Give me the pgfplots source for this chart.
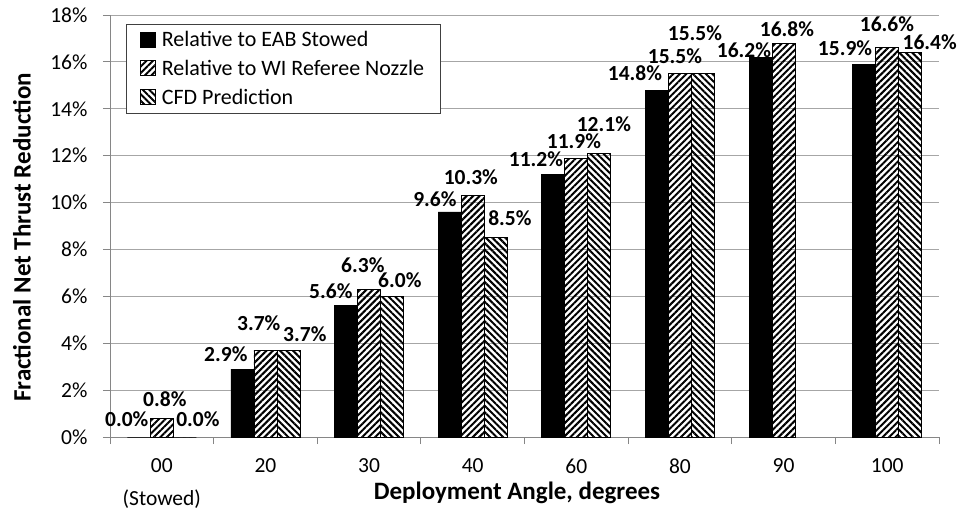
\documentclass[border=0pt]{standalone}
\usepackage{fontspec}
\setmainfont{Carlito}
\usepackage{pgfplots}
\usepackage{pgfplotstable}
\pgfplotsset{compat=1.18}
\usetikzlibrary{patterns.meta}

\pgfplotstableread{
x a b c
0 0.0 0.8 0.0
1 2.9 3.7 3.7
2 5.6 6.3 6.0
3 9.6 10.3 8.5
4 11.2 11.9 12.1
5 14.8 15.5 15.5
6 16.2 16.8 nan
7 15.9 16.6 16.4
}\data

\definecolor{gridc}{HTML}{A6A6A6}
\definecolor{axc}{HTML}{868686}

\tikzset{
  patNE/.style={pattern={Lines[angle=45,distance=4.6pt,line width=2pt]}},
  patNW/.style={pattern={Lines[angle=-45,distance=4.6pt,line width=2pt]}},
  lab/.style={font=\fontsize{21.5}{24}\selectfont\bfseries, inner sep=0pt}
}

\begin{document}
\begin{tikzpicture}
\begin{axis}[
  scale only axis,
  width=829pt, height=422pt,
  ybar=0pt, bar width=23pt,
  xmin=-0.5, xmax=7.5,
  ymin=0, ymax=18,
  axis x line*=bottom, axis y line*=left,
  axis line style={axc, line width=0.8pt},
  xtick={0,1,2,3,4,5,6,7},
  xticklabels={{00\\[7pt](Stowed)},20,30,40,60,80,90,100},
  xticklabel style={align=center, font=\fontsize{21.5}{26}\selectfont, yshift=-11pt},
  major x tick style={draw=none},
  minor xtick={-0.5,0.5,1.5,2.5,3.5,4.5,5.5,6.5,7.5},
  minor x tick style={axc, line width=0.8pt},
  minor tick length=7pt,
  ytick={0,2,...,18},
  yticklabel={\pgfmathprintnumber{\tick}\%},
  yticklabel style={font=\fontsize{21.5}{24}\selectfont, xshift=-12pt},
  /pgf/number format/assume math mode=true,
  major y tick style={axc, line width=0.8pt},
  major tick length=7pt,
  tick align=outside,
  ymajorgrids,
  grid style={gridc, line width=0.8pt},
  xlabel={\bfseries Deployment Angle, degrees},
  ylabel={\bfseries Fractional Net Thrust Reduction},
  xlabel style={font=\fontsize{25}{28}\selectfont, at={(axis description cs:0.491,0)}, anchor=center, yshift=-56pt},
  ylabel style={font=\fontsize{25}{28}\selectfont, at={(axis description cs:0,0.473)}, anchor=center, yshift=88pt},
  legend style={at={(0.019,0.978)}, anchor=north west, draw=black!75, line width=0.8pt,
    font=\fontsize{22}{26}\selectfont, row sep=8pt, inner xsep=14pt, inner ysep=5pt},
  legend cell align=left,
  legend image code/.code={\draw[#1, draw=black, line width=0.7pt] (0pt,-7pt) rectangle (15pt,8pt); \node[inner sep=0pt, minimum width=4pt, minimum height=1pt, anchor=west] at (15pt,0pt) {};},
  clip=false,
]
\addplot[fill=black, draw=black, line width=0.7pt] table[x=x,y=a]{\data};
\addplot[patNE, draw=black, line width=0.7pt] table[x=x,y=b]{\data};
\addplot[patNW, draw=black, line width=0.7pt] table[x=x,y=c]{\data};
\legend{Relative to EAB Stowed, Relative to WI Referee Nozzle, CFD Prediction}

\node[lab] at (axis cs:-0.338,0.77) {0.0\%};
\node[lab] at (axis cs:0.029,1.62) {0.8\%};
\node[lab] at (axis cs:0.348,0.77) {0.0\%};
\node[lab] at (axis cs:0.618,3.54) {2.9\%};
\node[lab] at (axis cs:0.936,4.86) {3.7\%};
\node[lab] at (axis cs:1.380,4.39) {3.7\%};
\node[lab] at (axis cs:1.631,6.23) {5.6\%};
\node[lab] at (axis cs:1.940,7.34) {6.3\%};
\node[lab] at (axis cs:2.297,6.70) {6.0\%};
\node[lab] at (axis cs:2.635,10.15) {9.6\%};
\node[lab] at (axis cs:2.982,11.09) {10.3\%};
\node[lab] at (axis cs:3.359,9.34) {8.5\%};
\node[lab] at (axis cs:3.610,11.86) {11.2\%};
\node[lab] at (axis cs:3.977,12.60) {11.9\%};
\node[lab] at (axis cs:4.266,13.35) {12.1\%};
\node[lab] at (axis cs:4.566,15.53) {14.8\%};
\node[lab] at (axis cs:4.952,16.25) {15.5\%};
\node[lab] at (axis cs:5.145,17.24) {15.5\%};
\node[lab] at (axis cs:5.618,16.51) {16.2\%};
\node[lab] at (axis cs:6.033,17.41) {16.8\%};
\node[lab] at (axis cs:6.593,16.59) {15.9\%};
\node[lab] at (axis cs:6.998,17.62) {16.6\%};
\node[lab] at (axis cs:7.410,16.85) {16.4\%};
\end{axis}
\pgfresetboundingbox
\path[use as bounding box] ([shift={(-110pt,-76pt)}]current axis.south west) rectangle ([shift={(19pt,15pt)}]current axis.north east);
\end{tikzpicture}
\end{document}
